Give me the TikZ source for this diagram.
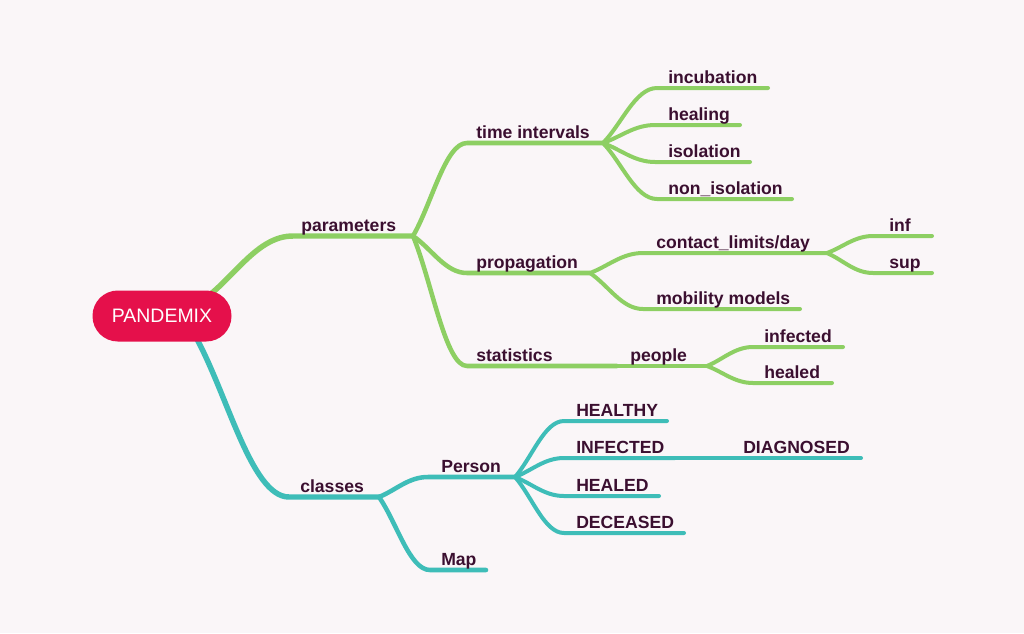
\documentclass[tikz,border=0pt]{standalone}
\usepackage{fontspec}
\setmainfont{Liberation Sans}
\usetikzlibrary{calc}
\definecolor{bgc}{HTML}{FAF6F8}
\definecolor{grn}{HTML}{8DCF63}
\definecolor{tea}{HTML}{3EBDB8}
\definecolor{crim}{HTML}{E5104B}
\definecolor{txt}{HTML}{3B0F30}
\pgfdeclarelayer{bg}
\pgfdeclarelayer{lines}
\pgfsetlayers{bg,lines,main}
\newcommand\mmbranch[4]{\draw[#1] let \p1=(#2), \p2=(#3) in (#2) .. controls ($(#2)!0.35!(#3)$) and ({\x1+0.6*(\x2-\x1)},\y2) .. (#3) -- (#4);}
\tikzset{
  lvA/.style={line width=4.1pt,line cap=round,line join=round},
  lvB/.style={line width=3.4pt,line cap=round,line join=round},
  lvC/.style={line width=3pt,line cap=round,line join=round},
  lbl/.style={text=txt,font=\bfseries\fontsize{13.2}{15}\selectfont,inner sep=0pt,anchor=base west},
  rootbox/.style={fill=crim,rounded corners=19pt,minimum width=104.25pt,minimum height=38.25pt,text=white,font=\fontsize{14.6}{16}\selectfont,inner sep=0pt}
}
\begin{document}
\begin{tikzpicture}[x=0.75pt,y=-0.75pt]
\useasboundingbox (0,0) rectangle (1024,633);
\begin{pgfonlayer}{bg}
\fill[bgc] (0,0) rectangle (1024,633);
\end{pgfonlayer}
% root
\node[rootbox] (root) at (162,316) {PANDEMIX};
% coordinates
\coordinate (rootA) at (203,300);
\coordinate (rootB) at (193,332);
\coordinate (parS) at (293,236); \coordinate (parE) at (413,236);
\coordinate (tiS) at (467,143); \coordinate (tiE) at (603,143);
\coordinate (incS) at (657,88); \coordinate (incE) at (768,88);
\coordinate (heaS) at (655,125); \coordinate (heaE) at (740,125);
\coordinate (isoS) at (655,162); \coordinate (isoE) at (750,162);
\coordinate (nisS) at (657,199); \coordinate (nisE) at (792,199);
\coordinate (proS) at (467,273); \coordinate (proE) at (590,273);
\coordinate (conS) at (643,253); \coordinate (conE) at (827,253);
\coordinate (infS) at (873,236); \coordinate (infE) at (932,236);
\coordinate (supS) at (873,273); \coordinate (supE) at (932,273);
\coordinate (mobS) at (643,309); \coordinate (mobE) at (800,309);
\coordinate (staS) at (467,366); \coordinate (staE) at (617,366);
\coordinate (peoE) at (707,366);
\coordinate (ifdS) at (753,347); \coordinate (ifdE) at (843,347);
\coordinate (hldS) at (753,383); \coordinate (hldE) at (832,383);
\coordinate (claS) at (289,497); \coordinate (claE) at (379,497);
\coordinate (perS) at (428,477); \coordinate (perE) at (515,477);
\coordinate (HtyS) at (564,421); \coordinate (HtyE) at (667,421);
\coordinate (InfS) at (564,458); \coordinate (InfE) at (675,458);
\coordinate (DiaE) at (861,458);
\coordinate (HldS) at (564,496); \coordinate (HldE) at (659,496);
\coordinate (DecS) at (564,533); \coordinate (DecE) at (684,533);
\coordinate (mapS) at (430,570); \coordinate (mapE) at (486,570);
% connectors
\begin{pgfonlayer}{lines}
\mmbranch{grn,lvA}{rootA}{parS}{parE}
\mmbranch{grn,lvB}{parE}{tiS}{tiE}
\mmbranch{grn,lvC}{tiE}{incS}{incE}
\mmbranch{grn,lvC}{tiE}{heaS}{heaE}
\mmbranch{grn,lvC}{tiE}{isoS}{isoE}
\mmbranch{grn,lvC}{tiE}{nisS}{nisE}
\mmbranch{grn,lvB}{parE}{proS}{proE}
\mmbranch{grn,lvC}{proE}{conS}{conE}
\mmbranch{grn,lvC}{conE}{infS}{infE}
\mmbranch{grn,lvC}{conE}{supS}{supE}
\mmbranch{grn,lvC}{proE}{mobS}{mobE}
\mmbranch{grn,lvB}{parE}{staS}{staE}
\draw[grn,lvC] (staE) -- (peoE);
\mmbranch{grn,lvC}{peoE}{ifdS}{ifdE}
\mmbranch{grn,lvC}{peoE}{hldS}{hldE}
\mmbranch{tea,lvA}{rootB}{claS}{claE}
\mmbranch{tea,lvB}{claE}{perS}{perE}
\mmbranch{tea,lvC}{perE}{HtyS}{HtyE}
\mmbranch{tea,lvC}{perE}{InfS}{InfE}
\draw[tea,lvC] (InfE) -- (DiaE);
\mmbranch{tea,lvC}{perE}{HldS}{HldE}
\mmbranch{tea,lvC}{perE}{DecS}{DecE}
\mmbranch{tea,lvB}{claE}{mapS}{mapE}
\end{pgfonlayer}
% labels
\node[lbl] (tpar) at (301,231) {parameters};
\node[lbl] (tti) at (476,138) {time intervals};
\node[lbl] (tinc) at (668,83) {incubation};
\node[lbl] (thea) at (668,120) {healing};
\node[lbl] (tiso) at (668,157) {isolation};
\node[lbl] (tnis) at (668,194) {non\_isolation};
\node[lbl] (tpro) at (476,268) {propagation};
\node[lbl] (tcon) at (656,248) {contact\_limits/day};
\node[lbl] (tinf) at (889,231) {inf};
\node[lbl] (tsup) at (889,268) {sup};
\node[lbl] (tmob) at (656,304) {mobility models};
\node[lbl] (tsta) at (476,361) {statistics};
\node[lbl] (tpeo) at (630,361) {people};
\node[lbl] (tifd) at (764,342) {infected};
\node[lbl] (thld) at (764,378) {healed};
\node[lbl] (tcla) at (300,492) {classes};
\node[lbl] (tper) at (441,472) {Person};
\node[lbl] (thty) at (576,416) {HEALTHY};
\node[lbl] (tInf) at (576,453) {INFECTED};
\node[lbl] (tdia) at (743,453) {DIAGNOSED};
\node[lbl] (tHld) at (576,491) {HEALED};
\node[lbl] (tdec) at (576,528) {DECEASED};
\node[lbl] (tmap) at (441,565) {Map};
\end{tikzpicture}
\end{document}
